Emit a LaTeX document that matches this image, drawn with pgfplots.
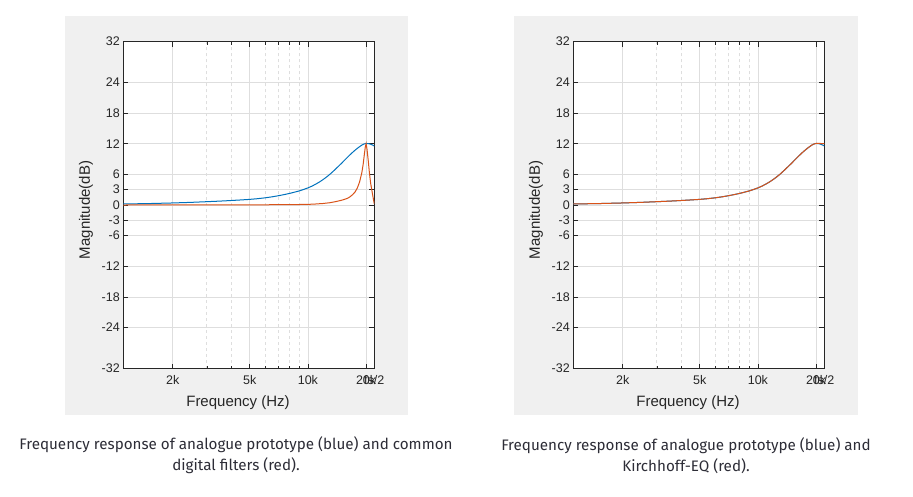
\documentclass[border=0pt]{standalone}
\usepackage{fontspec}
\setmainfont{Liberation Sans}
\newfontfamily\capfont{Fira Sans}
\usepackage{pgfplots}
\usepackage{pgfplotstable}
\pgfplotsset{compat=1.18}
\definecolor{mblue}{rgb}{0,0.447,0.741}
\definecolor{mred}{rgb}{0.85,0.325,0.098}
\definecolor{panel}{RGB}{240,240,240}
\definecolor{axc}{RGB}{38,38,38}
\definecolor{gridc}{RGB}{222,222,222}
\definecolor{capc}{RGB}{45,45,55}

\pgfplotstableread{
f db
1110 0.20
1500 0.28
2000 0.40
2500 0.52
3000 0.65
3500 0.76
4000 0.88
4500 0.99
5000 1.10
5500 1.24
6000 1.40
6500 1.59
7000 1.80
7500 2.02
8000 2.25
8500 2.50
9000 2.75
9500 3.04
10000 3.35
10500 3.70
11000 4.10
11500 4.53
12000 5.00
12500 5.50
13000 6.02
13500 6.58
14000 7.15
14500 7.70
15000 8.25
15500 8.80
16000 9.32
16500 9.82
17000 10.28
17500 10.70
18000 11.08
18500 11.42
19000 11.72
19500 11.94
20000 12.05
20500 12.02
21000 11.92
21500 11.78
22050 11.55
}\blueA

\pgfplotstableread{
f db
1110 0.00
5000 0.03
8000 0.07
10000 0.12
11000 0.20
12000 0.30
13000 0.45
14000 0.68
15000 0.95
16000 1.30
16500 1.60
17000 2.00
17500 2.50
18000 3.30
18500 4.50
19000 6.30
19300 7.90
19600 10.00
19800 11.30
20000 12.00
20200 11.00
20500 8.80
20800 6.30
21100 4.30
21500 2.50
21800 1.20
22050 0.20
}\redA

\pgfplotstableread{
f db
1110 0.20
1500 0.28
2000 0.40
2500 0.52
3000 0.65
3500 0.76
4000 0.88
4500 0.99
5000 1.10
5500 1.24
6000 1.40
6500 1.59
7000 1.80
7500 2.02
8000 2.25
8500 2.50
9000 2.75
9500 3.04
10000 3.35
10500 3.70
11000 4.10
11500 4.53
12000 5.00
12500 5.50
13000 6.02
13500 6.58
14000 7.15
14500 7.70
15000 8.25
15500 8.80
16000 9.32
16500 9.82
17000 10.28
17500 10.70
18000 11.08
18500 11.42
19000 11.72
19500 11.94
20000 12.05
20500 12.05
21000 12.04
21500 12.03
22050 12.02
}\redB

\pgfplotsset{
  every axis/.append style={
    anchor=south west, width=251pt, height=327pt, scale only axis,
    xmode=log, xmin=1110, xmax=22050, ymin=-32, ymax=32,
    ytick={-32,-24,-18,-12,-6,-3,0,3,6,12,18,24,32},
    xtick={2000,5000,10000,20000,22050},
    xticklabels={2k,5k,10k,20k,fs/2},
    minor xtick={3000,4000,6000,7000,8000,9000},
    grid=both,
    major grid style={color=gridc, line width=0.8pt},
    minor grid style={color=gridc, dashed, line width=0.8pt},
    axis line style={color=axc, line width=1pt},
    major tick style={color=axc, line width=0.8pt},
    minor tick style={color=axc, line width=0.6pt},
    major tick length=5pt, minor tick length=3pt,
    /pgf/number format/assume math mode=true,
    tick label style={color=axc, font=\fontsize{12.5}{14}\selectfont},
    xticklabel style={yshift=-3pt},
    label style={color=axc, font=\fontsize{15}{17}\selectfont},
    xlabel={Frequency (Hz)}, ylabel={Magnitude(dB)},
    xlabel style={at={(axis description cs:0.457,-0.104)}, anchor=center},
    ylabel style={at={(axis description cs:-0.149,0.485)}, anchor=center},
    axis background/.style={fill=white},
  }
}

\begin{document}
\begin{tikzpicture}[x=1pt,y=1pt]
\path[use as bounding box, fill=white] (0,0) rectangle (913,496);
\fill[panel] (65,81) rectangle (408,480);
\fill[panel] (514,81) rectangle (858,480);

\begin{axis}[at={(123.3pt,127.5pt)}]
\addplot[mblue, line width=1pt] table[x=f,y=db] {\blueA};
\addplot[mred, line width=1pt] table[x=f,y=db] {\redA};
\end{axis}

\begin{axis}[at={(573.3pt,127.5pt)}]
\addplot[mblue, line width=1pt] table[x=f,y=db] {\blueA};
\addplot[mred, line width=1pt] table[x=f,y=db] {\redB};
\end{axis}

\node[color=capc, font=\capfont\fontsize{15.2}{21}\selectfont, align=center] at (236,40.5)
  {Frequency response of analogue prototype (blue) and common\\digital filters (red).};
\node[color=capc, font=\capfont\fontsize{15.2}{21}\selectfont, align=center] at (686,40.5)
  {Frequency response of analogue prototype (blue) and\\Kirchhoff-EQ (red).};
\end{tikzpicture}
\end{document}
